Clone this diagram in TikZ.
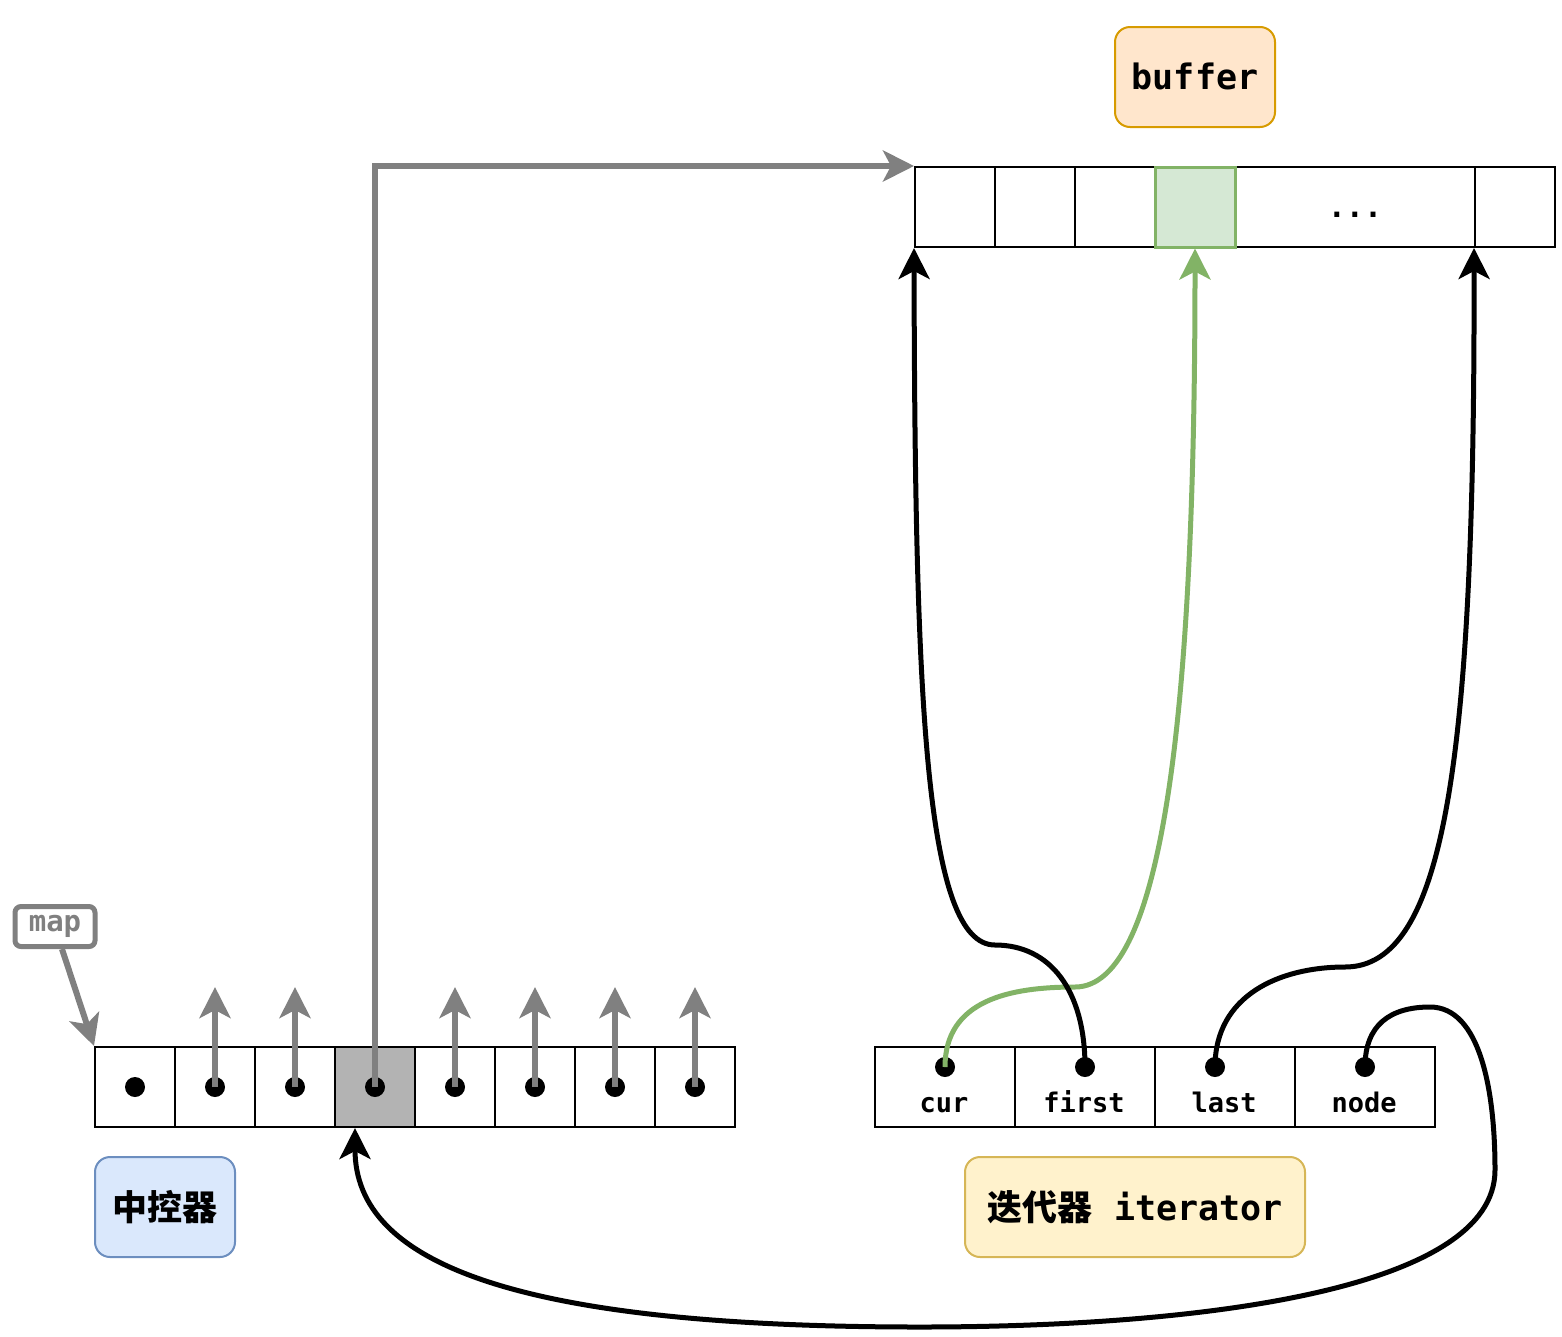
\documentclass[tikz,border=0pt]{standalone}
\usepackage{fontspec}
\setmonofont{DejaVu Sans Mono}
\newfontfamily\cjk{Noto Sans CJK SC}
\usetikzlibrary{arrows.meta}
\definecolor{grayline}{HTML}{808080}
\definecolor{cellgray}{HTML}{B3B3B3}
\definecolor{greenfill}{HTML}{D5E8D4}
\definecolor{greenline}{HTML}{82B366}
\definecolor{orangefill}{HTML}{FFE6CC}
\definecolor{orangeline}{HTML}{D79B00}
\definecolor{bluefill}{HTML}{DAE8FC}
\definecolor{blueline}{HTML}{6C8EBF}
\definecolor{yellowfill}{HTML}{FFF2CC}
\definecolor{yellowline}{HTML}{D6B656}
\begin{document}
\begin{tikzpicture}[x=1pt,y=-1pt,
  cellbox/.style={draw=black,line width=2pt,minimum width=80pt,minimum height=80pt,inner sep=0pt,fill=white},
  itbox/.style={cellbox,minimum width=140pt},
  dotn/.style={circle,fill=black,minimum size=20pt,inner sep=0pt},
  celltext/.style={font=\ttfamily\bfseries\fontsize{27}{30}\selectfont,inner sep=0pt},
  bigtext/.style={font=\ttfamily\bfseries\fontsize{35}{40}\selectfont},
  lblbox/.style={draw,line width=2pt,rounded corners=15pt,minimum height=100pt,inner sep=0pt},
  grayarr/.style={draw=grayline,line width=6pt,-{Stealth[length=31pt,width=31pt,inset=8pt]}},
  blackarr/.style={draw=black,line width=5pt,-{Stealth[length=31pt,width=31pt,inset=8pt]}},
  greenarr/.style={draw=greenline,line width=5pt,-{Stealth[length=31pt,width=31pt,inset=8pt]}}
]
\useasboundingbox (0,0) rectangle (1562,1336);

% map cells
\foreach \i in {0,1,2,4,5,6,7}{
  \node[cellbox] (m\i) at ({135+80*\i},1087) {};
}
\node[cellbox,fill=cellgray] (m3) at (375,1087) {};
\foreach \i in {0,...,7}{
  \node[dotn] (d\i) at ({135+80*\i},1087) {};
}
% buffer cells
\node[cellbox] (b0) at (955,207) {};
\node[cellbox] (b1) at (1035,207) {};
\node[cellbox] (b2) at (1115,207) {};
\node[cellbox,minimum width=240pt] (b4) at (1355,207) {};
\node[cellbox] (b5) at (1515,207) {};
\node[cellbox,draw=greenline,fill=greenfill,line width=3pt] (b3) at (1195,207) {};
\node[celltext,font=\ttfamily\bfseries\fontsize{30}{32}\selectfont,anchor=base] (dots) at (1355,217) {...};

% iterator cells
\node[itbox] (i0) at (945,1087) {};
\node[itbox] (i1) at (1085,1087) {};
\node[itbox] (i2) at (1225,1087) {};
\node[itbox] (i3) at (1365,1087) {};
\node[celltext,anchor=base] (t0) at (944,1112) {cur};
\node[celltext,anchor=base] (t1) at (1084,1112) {first};
\node[celltext,anchor=base] (t2) at (1224,1112) {last};
\node[celltext,anchor=base] (t3) at (1364,1112) {node};
\node[dotn] (p0) at (945,1067) {};
\node[dotn] (p1) at (1085,1067) {};
\node[dotn] (p2) at (1215,1067) {};
\node[dotn] (p3) at (1365,1067) {};

% label boxes
\node[lblbox,draw=orangeline,fill=orangefill,minimum width=160pt,bigtext] (buf) at (1195,77) {\raisebox{1pt}{buffer}};
\node[lblbox,draw=blueline,fill=bluefill,minimum width=140pt,font=\cjk\bfseries\fontsize{35}{40}\selectfont] (ctrl) at (165,1207) {中控器};
\node[lblbox,draw=yellowline,fill=yellowfill,minimum width=340pt] (iter) at (1135,1207) {\cjk\bfseries\fontsize{35}{40}\selectfont 迭代器\hspace{22pt}\ttfamily\bfseries iterator};
\node[draw=grayline,line width=5pt,rounded corners=6pt,minimum width=80pt,minimum height=40pt,inner sep=0pt,text=grayline,celltext,font=\ttfamily\bfseries\fontsize{29}{30}\selectfont] (maplbl) at (55,926.5) {map};

% gray pointer arrows
\foreach \i in {1,2,4,5,6,7}{
  \coordinate (up\i) at ({135+80*\i},987);
  \draw[grayarr] (d\i.center) -- (up\i);
}
\draw[grayarr] (d3.center) |- (b0.north west);
\draw[grayarr] ([xshift=7pt]maplbl.south) -- (m0.north west);

% curves
\draw[greenarr] (p0.center) .. controls (945,1000) and (1010,987) .. (1075,987)
   .. controls (1165,987) and (1195,700) .. (b3.south);
\draw[blackarr] (p1.center) .. controls (1085,990) and (1050,945) .. (995,945)
   .. controls (925,945) and (915,700) .. (b0.south west);
\draw[blackarr] (p2.center) .. controls (1215,995) and (1280,967) .. (1345,967)
   .. controls (1445,967) and (1475,760) .. (b5.south west);
\draw[blackarr] (p3.center) .. controls (1365,1025) and (1390,1007) .. (1430,1007)
   .. controls (1480,1007) and (1495,1090) .. (1495,1170)
   .. controls (1495,1290) and (1200,1327) .. (920,1327)
   .. controls (520,1327) and (355,1265) .. ([xshift=-20pt]m3.south);
\end{tikzpicture}
\end{document}
